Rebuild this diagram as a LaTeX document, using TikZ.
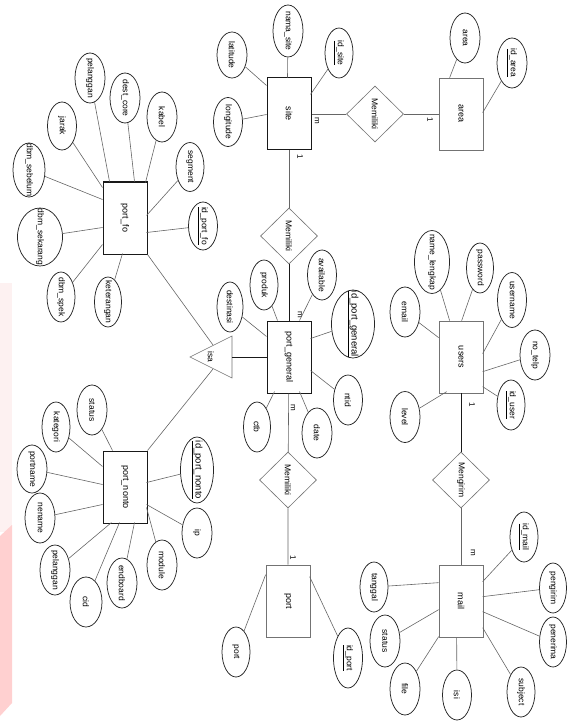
\documentclass[tikz,border=0pt]{standalone}
\usepackage{fontspec}
\usepackage{graphicx}
\setmainfont{Liberation Sans}
\usetikzlibrary{shapes.geometric,calc}
\definecolor{pinkfaint}{RGB}{253,241,241}
\definecolor{pinkstrong}{RGB}{255,208,208}
\tikzset{
  ent/.style={draw=black!90, line width=1pt, minimum width=44pt, minimum height=72pt, inner sep=0pt, fill=white, font=\fontsize{9}{10}\selectfont},
  entl/.style={ent, draw=black!55, line width=0.7pt},
  attr/.style 2 args={draw=black!85, ellipse, line width=0.75pt, rotate=-90, minimum width=#2pt, minimum height=#1pt, inner sep=0pt, fill=white, font=\fontsize{8.5}{10}\selectfont},
  attrd/.style={attr={30}{50}},
  rel/.style={draw=black!55, diamond, line width=0.6pt, minimum width=57pt, minimum height=56pt, inner sep=0pt, fill=white, font=\fontsize{8.5}{10}\selectfont},
  conn/.style={draw=black!60, line width=0.6pt},
  strong/.style={draw=black!90, line width=0.9pt},
  card/.style={rotate=-90, inner sep=0pt, font=\fontsize{8}{9}\selectfont},
}
\newcommand{\rt}[1]{\rotatebox{-90}{#1}}
\newcommand{\zb}[1]{\makebox[0pt]{#1}}
\begin{document}
\begin{tikzpicture}[x=1pt,y=-1pt]
\useasboundingbox (0,0) rectangle (568,722);
% watermark
\fill[pinkfaint] (0,283) rectangle (12,532);
\fill[pinkstrong] (0,536) -- (12,525) -- (12,703) -- (0,716) -- cycle;

\coordinate (isaA) at (190,357);
\coordinate (isaB) at (232,336);
\coordinate (isaC) at (232,378);
\coordinate (isaR) at (232,357);
\coordinate (isaT) at (213,345);
\coordinate (isaD) at (213,369);

% entities
\node[ent]  (site) at (289,114) {\rt{site}};
\node[entl] (area) at (461,114) {\rt{area}};
\node[ent]  (pfo)  at (125,218) {\rt{port\_fo}};
\node[ent]  (pgen) at (289,357) {\rt{port\_general}};
\node[entl] (users) at (461,357) {\rt{users}};
\node[ent]  (pnon) at (125,487) {\rt{port\_nonto}};
\node[entl] (port) at (288,601) {\rt{port}};
\node[entl] (mail) at (461,601) {\rt{mail}};

% relationships
\node[rel] (mem1) at (375,114) {\rt{Memiliki}};
\node[rel] (mem2) at (289,236) {\rt{Memiliki}};
\node[rel] (mem3) at (288,480) {\rt{Memiliki}};
\node[rel] (meng) at (461,480) {\rt{Mengirim}};

\draw[conn] (site) -- (mem1) -- (area);
\draw[conn] (site) -- (mem2);
\draw[strong] (mem2) -- (pgen);
\draw[conn] (pgen) -- (mem3) -- (port);
\draw[strong] (users) -- (meng);
\draw[conn] (meng) -- (mail);

% isa
\draw[draw=black!55, line width=0.6pt, fill=white] (isaA) -- (isaB) -- (isaC) -- cycle;
\node[rotate=-90, inner sep=0pt, font=\fontsize{8.5}{10}\selectfont] (isa) at (211,357) {isa};
\draw[strong] (isaR) -- (pgen);
\draw[conn] (pfo.south east) -- (isaT);
\draw[conn] (pnon.north east) -- (isaD);

% cardinalities
\node[card] (c1) at (317,121) {m};
\node[card] (c2) at (430,120) {1};
\node[card] (c3) at (300,157) {1};
\node[card] (c4) at (300,315) {m};
\node[card] (c5) at (293,408) {m};
\node[card] (c6) at (472,405) {1};
\node[card] (c7) at (293,558) {1};
\node[card] (c8) at (473,553) {m};

% site attributes
\node[attr={30}{46}] (lat) at (232,55) {\zb{latitude}};
\node[attr={30}{52}] (nsite) at (288,31) {\zb{nama\_site}};
\node[attr={28}{50}] (idsite) at (339,53) {\zb{\underline{id\_site}}};
\node[attr={29}{49}] (long) at (228,122) {\zb{longitude}};
\draw[conn] (lat) -- ($(site.north west)+(0,8)$);
\draw[conn] (nsite) -- ($(site.north west)+(21,0)$);
\draw[conn] (idsite) -- ($(site.north west)+(44,17)$);
\draw[conn] (long) -- ($(site.north west)+(0,37)$);

% area attributes
\node[attrd] (aarea) at (465,38) {\zb{area}};
\node[attrd] (idarea) at (512,63) {\zb{\underline{id\_area}}};
\draw[conn] (aarea) -- ($(area.north west)+(11,0)$);
\draw[conn] (idarea) -- ($(area.north west)+(44,35)$);

% port_fo attributes
\node[attrd] (fpel) at (90,78) {\zb{pelanggan}};
\node[attrd] (fdest) at (125,98) {\zb{dest\_core}};
\node[attrd] (fkab) at (162,117) {\zb{kabel}};
\node[attr={28}{49}] (fseg) at (190,167) {\zb{segment}};
\node[attr={29}{48}] (fid) at (203,226) {\zb{\underline{id\_port\_fo}}};
\node[attr={29}{48}] (fjar) at (62,126) {\zb{jarak}};
\node[attr={32}{54}] (fseb) at (29,170) {\zb{dbm\_sebelum}};
\node[attr={45}{58}] (fsek) at (40,237) {\zb{dbm\_sekarang}};
\node[attr={28}{50}] (fspek) at (61,297) {\zb{dbm\_spek}};
\node[attr={27}{50}] (fket) at (108,302) {\zb{keterangan}};
\draw[conn] (fpel) -- ($(pfo.north west)+(7,0)$);
\draw[conn] (fdest) -- ($(pfo.north west)+(32,0)$);
\draw[conn] (fkab) -- ($(pfo.north west)+(43,1)$);
\draw[conn] (fseg) -- ($(pfo.north west)+(44,34)$);
\draw[conn] (fid) -- ($(pfo.north west)+(44,51)$);
\draw[conn] (fjar) -- ($(pfo.north west)+(0,6)$);
\draw[conn] (fseb) -- ($(pfo.north west)+(0,18)$);
\draw[conn] (fsek) -- ($(pfo.north west)+(0,46)$);
\draw[conn] (fspek) -- ($(pfo.north west)+(0,63)$);
\draw[conn] (fket) -- ($(pfo.north west)+(20,72)$);

% port_general attributes
\node[attr={28}{50}] (gprod) at (264,285) {\zb{produk}};
\node[attr={26}{50}] (gdest) at (230,307) {\zb{destinasi}};
\node[attr={29}{50}] (gavail) at (322,275) {\zb{available}};
\node[attr={43}{68}, font=\fontsize{9.5}{10}\selectfont] (gid) at (353,324) {\zb{\underline{id\_port\_general}}};
\node[attr={29}{50}] (gntid) at (348,400) {\zb{ntid}};
\node[attrd] (gdate) at (317,433) {\zb{date}};
\node[attr={27}{50}] (gctb) at (257,427) {\zb{ctb}};
\draw[conn] (gprod) -- ($(pgen.north west)+(11,0)$);
\draw[conn] (gdest) -- ($(pgen.north west)+(0,16)$);
\draw[conn] (gavail) -- ($(pgen.north west)+(33,0)$);
\draw[conn] (gid) -- ($(pgen.north west)+(44,18)$);
\draw[conn] (gntid) -- ($(pgen.north west)+(44,50)$);
\draw[conn] (gdate) -- ($(pgen.north west)+(33,71)$);
\draw[conn] (gctb) -- ($(pgen.north west)+(8,71)$);

% users attributes
\node[attr={35}{63}] (uname) at (432,262) {\zb{name\_lengkap}};
\node[attr={27}{50}] (upass) at (480,268) {\zb{password}};
\node[attrd] (uemail) at (405,312) {\zb{email}};
\node[attr={29}{55}] (uuser) at (512,300) {\zb{username}};
\node[attrd] (utelp) at (535,355) {\zb{no\_telp}};
\node[attr={28}{50}] (uid) at (511,405) {\zb{\underline{id\_user}}};
\node[attr={30}{51}] (ulevel) at (405,417) {\zb{level}};
\draw[conn] (uname) -- ($(users.north west)+(11,0)$);
\draw[conn] (upass) -- ($(users.north west)+(23,0)$);
\draw[conn] (uemail) -- ($(users.north west)+(0,17)$);
\draw[conn] (uuser) -- ($(users.north west)+(44,33)$);
\draw[conn] (utelp) -- ($(users.north west)+(44,51)$);
\draw[conn] (uid) -- ($(users.north west)+(44,66)$);
\draw[conn] (ulevel) -- ($(users.north west)+(8,71)$);

% port_nonto attributes
\node[attrd] (nstat) at (92,410) {\zb{status}};
\node[attr={28}{50}] (nkat) at (56,427) {\zb{kategori}};
\node[attr={30}{48}] (npname) at (32,469) {\zb{portname}};
\node[attrd] (nnename) at (40,518) {\zb{nename}};
\node[attrd] (npel) at (55,570) {\zb{pelanggan}};
\node[attr={32}{50}] (ncid) at (86,602) {\zb{cid}};
\node[attrd] (nend) at (122,583) {\zb{endboard}};
\node[attrd] (nmod) at (162,565) {\zb{module}};
\node[attrd] (nip) at (197,533) {\zb{ip}};
\node[attr={33}{66}, font=\fontsize{9.5}{10}\selectfont] (nid) at (197,470) {\zb{\underline{id\_port\_nonto}}};
\draw[conn] (nstat) -- ($(pnon.north west)+(10,0)$);
\draw[conn] (nkat) -- ($(pnon.north west)+(0,16)$);
\draw[conn] (npname) -- ($(pnon.north west)+(0,34)$);
\draw[conn] (nnename) -- ($(pnon.north west)+(0,54)$);
\draw[conn] (npel) -- ($(pnon.north west)+(9,72)$);
\draw[conn] (ncid) -- ($(pnon.north west)+(17,72)$);
\draw[conn] (nend) -- ($(pnon.north west)+(32,72)$);
\draw[conn] (nmod) -- ($(pnon.north west)+(44,57)$);
\draw[conn] (nip) -- ($(pnon.north west)+(44,54)$);
\draw[conn] (nid) -- ($(pnon.north west)+(44,32)$);

% port attributes
\node[attr={28}{50}] (pport) at (236,652) {\zb{port}};
\node[attr={29}{60}] (pid) at (348,658) {\zb{\underline{id\_port}}};
\draw[conn] (pport) -- ($(port.north west)+(0,10)$);
\draw[conn] (pid) -- ($(port.north west)+(44,12)$);

% mail attributes
\node[attr={28}{50}] (mid) at (524,537) {\zb{\underline{id\_mail}}};
\node[attr={27}{50}] (mpeng) at (553,588) {\zb{pengirim}};
\node[attr={27}{50}] (mpen) at (553,642) {\zb{penerima}};
\node[attr={28}{50}] (msub) at (521,692) {\zb{subject}};
\node[attr={29}{50}] (misi) at (457,695) {\zb{isi}};
\node[attr={30}{52}] (mfile) at (405,689) {\zb{file}};
\node[attr={30}{52}] (mstat) at (385,641) {\zb{status}};
\node[attr={28}{50}] (mtgl) at (374,587) {\zb{tanggal}};
\draw[conn] (mid) -- ($(mail.north west)+(44,17)$);
\draw[conn] (mpeng) -- ($(mail.north west)+(44,32)$);
\draw[conn] (mpen) -- ($(mail.north west)+(44,47)$);
\draw[conn] (msub) -- ($(mail.north west)+(44,63)$);
\draw[conn] (misi) -- ($(mail.north west)+(18,73)$);
\draw[conn] (mfile) -- ($(mail.north west)+(0,72)$);
\draw[conn] (mstat) -- ($(mail.north west)+(0,45)$);
\draw[conn] (mtgl) -- ($(mail.north west)+(0,18)$);
\end{tikzpicture}
\end{document}
